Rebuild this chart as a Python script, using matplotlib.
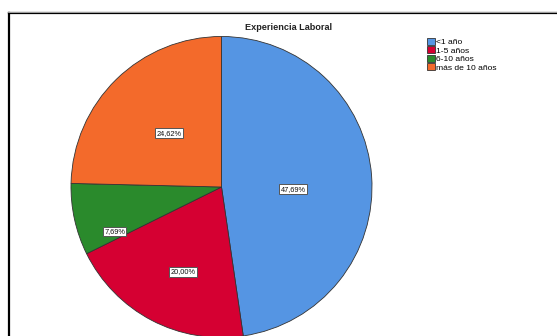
import numpy as np
import matplotlib
matplotlib.use("Agg")
import matplotlib.pyplot as plt
from matplotlib.patches import Patch

plt.rcParams['font.family'] = ['Liberation Sans', 'DejaVu Sans']

# Experiencia laboral (porcentaje de casos)
categorias = ['<1 año', '1-5 años', '6-10 años', 'más de 10 años']
porcentajes = [47.69, 20.00, 7.69, 24.62]
colores = ['#5595E3', '#D50032', '#2A8A2C', '#F36A2B']

W, H = 557, 336
fig = plt.figure(figsize=(W / 100, H / 100), dpi=100)
ax = fig.add_axes([0, 0, 1, 1])

# pixel layout (y measured from the top of the figure)
cx, cy, radio = 221.5, 187, 150.5
wedges, _ = ax.pie(porcentajes, colors=colores, startangle=90,
                   counterclock=False, center=(cx, H - cy), radius=radio,
                   frame=True,
                   wedgeprops=dict(edgecolor='#333333', linewidth=0.6))
ax.set_xlim(0, W)
ax.set_ylim(0, H)
ax.set_aspect('equal')
ax.axis('off')

# etiquetas de porcentaje dentro de cada sector
dist_etiqueta = [0.475, 0.62, 0.77, 0.50]
desfase_ang = [-5.8, 3.1, 10.2, 0.0]
for w, pct, d, off in zip(wedges, porcentajes, dist_etiqueta, desfase_ang):
    ang = np.deg2rad((w.theta1 + w.theta2) / 2 + off)
    x = cx + d * radio * np.cos(ang)
    y = H - cy + d * radio * np.sin(ang)
    txt = f'{pct:.2f}%'.replace('.', ',')
    ax.text(x, y, txt, ha='center', va='center', fontsize=5.3,
            color='#111111',
            bbox=dict(boxstyle='square,pad=0.18', facecolor='white',
                      edgecolor='#555555', linewidth=0.7))

ax.text(289, H - 28, 'Experiencia Laboral', ha='center', va='center',
        fontsize=6.6, fontweight='bold', color='#222222')

handles = [Patch(facecolor=c, edgecolor='#333333', linewidth=0.6)
           for c in colores]
ax.legend(handles, categorias, loc='upper left',
          bbox_to_anchor=(427 / W, 1 - 38 / H), frameon=False,
          fontsize=6.1, handlelength=0.9, handleheight=0.85,
          handletextpad=0.2, labelspacing=0.02, borderpad=0,
          borderaxespad=0)

# marco del gráfico (se extiende fuera de la imagen)
ax.plot([9, 9], [-5, H - 13], color='black', linewidth=1.6,
        solid_capstyle='projecting')
ax.plot([9, W + 5], [H - 13, H - 13], color='black', linewidth=1.6,
        solid_capstyle='projecting')
ax.plot([7.5, W + 5], [H - 11.5, H - 11.5], color='#bbbbbb', linewidth=0.6)

fig.savefig('out.png', dpi=100)
